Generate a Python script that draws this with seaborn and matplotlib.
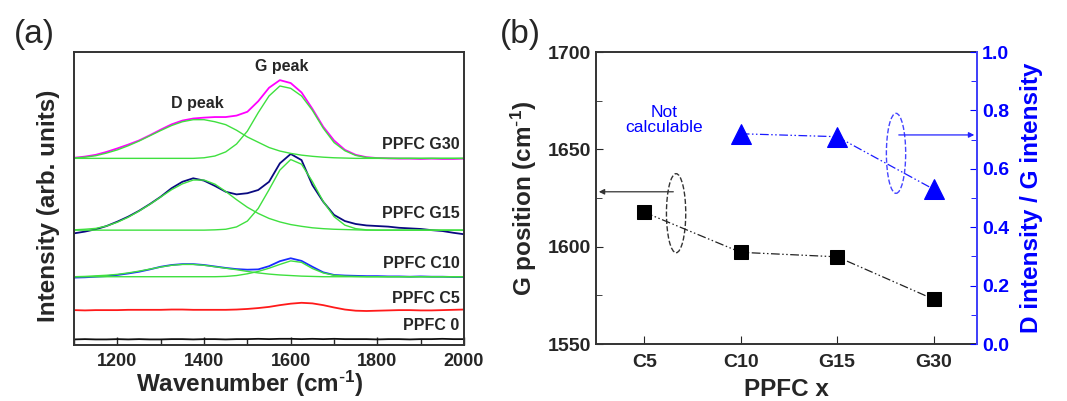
import numpy as np
import pandas as pd
import seaborn as sns
import matplotlib.pyplot as plt
from matplotlib.patches import Ellipse
from matplotlib.ticker import MultipleLocator

# ---- (a) Raman spectra, every 25 cm-1 ----
wavenumber = np.arange(1100, 2001, 25)

ppfc_g30 = [63.9, 64.3, 64.9, 65.9, 67.1, 68.4, 69.8, 71.6, 73.5, 75.3, 76.6, 77.3, 77.6,
            77.8, 77.8, 78.3, 79.6, 83.2, 87.8, 90.4, 89.4, 86.2, 80.6, 74.5, 69.8, 66.6,
            64.9, 64.1, 63.8, 63.7, 63.6, 63.6, 63.5, 63.6, 63.5, 63.5, 63.6]
g30_dfit = [63.8, 64.1, 64.6, 65.5, 66.6, 68.0, 69.6, 71.4, 73.2, 74.9, 76.2, 76.9, 76.9,
            76.2, 75.2, 73.3, 71.0, 69.2, 67.4, 66.2, 65.4, 64.8, 64.4, 64.1, 63.9, 63.8,
            63.7, 63.7, 63.7, 63.7, 63.7, 63.7, 63.7, 63.7, 63.7, 63.7, 63.7]
g30_gfit = [63.7, 63.7, 63.7, 63.7, 63.7, 63.7, 63.7, 63.7, 63.7, 63.7, 63.7, 63.7, 63.9,
            64.5, 65.9, 68.6, 73.0, 79.3, 85.0, 88.4, 87.6, 85.0, 80.1, 74.0, 69.1, 66.3,
            64.7, 64.0, 63.8, 63.7, 63.7, 63.7, 63.7, 63.7, 63.7, 63.7, 63.7]

ppfc_g15 = [38.1, 38.7, 39.5, 40.6, 42.1, 43.8, 45.8, 48.1, 50.6, 53.5, 55.7, 56.9, 56.1,
            54.3, 52.3, 51.4, 51.8, 52.9, 55.7, 62.0, 65.2, 63.1, 54.6, 48.9, 44.4, 42.3,
            41.3, 40.8, 40.6, 40.4, 40.0, 39.8, 39.6, 39.2, 38.9, 38.3, 37.8]
g15_dfit = [39.3, 39.5, 39.8, 40.6, 41.9, 43.6, 45.7, 48.0, 50.5, 53.0, 55.0, 56.3, 56.3,
            54.9, 52.4, 49.6, 47.0, 44.9, 43.2, 42.0, 41.1, 40.5, 40.0, 39.7, 39.5, 39.4,
            39.3, 39.2, 39.2, 39.2, 39.2, 39.2, 39.2, 39.2, 39.2, 39.2, 39.2]
g15_gfit = [39.2, 39.2, 39.2, 39.2, 39.2, 39.2, 39.2, 39.2, 39.2, 39.2, 39.2, 39.2, 39.2,
            39.3, 39.5, 40.3, 42.3, 46.6, 53.0, 59.7, 63.3, 61.7, 55.8, 49.0, 43.8, 40.9,
            39.7, 39.3, 39.2, 39.2, 39.2, 39.2, 39.2, 39.2, 39.2, 39.2, 39.2]

ppfc_c10 = [23.0, 23.1, 23.3, 23.5, 23.9, 24.4, 25.0, 25.8, 26.7, 27.3, 27.6, 27.6, 27.3,
            26.8, 26.3, 25.9, 25.7, 25.8, 26.9, 28.6, 29.6, 28.7, 26.7, 24.8, 23.9, 23.7,
            23.6, 23.5, 23.5, 23.4, 23.4, 23.3, 23.4, 23.3, 23.3, 23.2, 23.2]
c10_dfit = [23.3, 23.4, 23.6, 23.8, 24.1, 24.6, 25.2, 25.9, 26.6, 27.2, 27.5, 27.5, 27.2,
            26.7, 26.2, 25.7, 25.1, 24.6, 24.2, 23.9, 23.7, 23.5, 23.4, 23.3, 23.3, 23.3,
            23.3, 23.3, 23.3, 23.3, 23.3, 23.3, 23.3, 23.3, 23.3, 23.3, 23.3]
c10_gfit = [23.3, 23.3, 23.3, 23.3, 23.3, 23.3, 23.3, 23.3, 23.3, 23.3, 23.3, 23.3, 23.3,
            23.3, 23.4, 23.7, 24.3, 25.1, 26.2, 27.5, 28.7, 28.2, 26.1, 24.6, 23.8, 23.5,
            23.4, 23.3, 23.3, 23.3, 23.3, 23.3, 23.3, 23.3, 23.3, 23.3, 23.3]

ppfc_c5 = [11.9, 11.8, 11.9, 11.9, 11.9, 12.0, 12.0, 12.0, 12.0, 12.1, 12.1, 12.0, 12.0,
           12.0, 12.0, 12.1, 12.3, 12.6, 13.0, 13.6, 14.1, 14.4, 14.2, 13.6, 12.8, 12.1,
           11.7, 11.6, 11.7, 11.8, 11.9, 11.9, 11.8, 11.8, 11.9, 12.0, 12.1]

ppfc_0 = [1.9, 2.0, 1.9, 1.9, 2.0, 1.9, 2.0, 1.9, 1.9, 2.0, 2.0, 1.9, 2.0, 2.0, 1.9, 2.0,
          2.0, 2.1, 2.0, 2.1, 2.1, 2.0, 2.1, 2.0, 2.1, 2.0, 2.0, 2.0, 1.9, 2.0, 2.0, 1.9,
          2.0, 2.0, 2.1, 2.0, 2.0]

# ---- (b) G position and D/G ratio ----
samples = ["C5", "C10", "G15", "G30"]
g_position = [1617.7, 1597.1, 1594.8, 1573.0]
dg_samples = ["C10", "G15", "G30"]
dg_ratio = [0.72, 0.71, 0.53]

sns.set_style("ticks")
plt.rcParams['font.family'] = ['Liberation Sans', 'DejaVu Sans']
plt.rcParams['mathtext.default'] = 'regular'

fig = plt.figure(figsize=(10.67, 4.01), dpi=100)
axa = fig.add_axes([0.0694, 0.1397, 0.3655, 0.7306])
axb = fig.add_axes([0.5586, 0.1421, 0.3571, 0.7282])

green = '#3fe03f'
spectra = [(ppfc_g30, '#ff00ff'), (ppfc_g15, '#0a0a80'), (ppfc_c10, '#1a2cff'),
           (ppfc_c5, '#ff1a1a'), (ppfc_0, '#111111')]
fits = [g30_dfit, g30_gfit, g15_dfit, g15_gfit, c10_dfit, c10_gfit]

for vals, col in spectra:
    sns.lineplot(x=wavenumber, y=vals, ax=axa, color=col, lw=1.3, estimator=None)
for vals in fits:
    sns.lineplot(x=wavenumber, y=vals, ax=axa, color=green, lw=1.0, estimator=None)

axa.set_xlim(1100, 2000)
axa.set_ylim(0, 100)
axa.set_yticks([])
axa.xaxis.set_major_locator(MultipleLocator(200))
axa.xaxis.set_minor_locator(MultipleLocator(100))
axa.tick_params(axis='x', which='both', direction='in', labelsize=13, pad=6)
axa.tick_params(axis='x', which='major', length=6, width=1)
axa.tick_params(axis='x', which='minor', length=4, width=1)
for lab in axa.get_xticklabels():
    lab.set_fontweight('bold')
for sp in axa.spines.values():
    sp.set_color('#333333')
    sp.set_linewidth(1.4)
axa.set_xlabel(r"Wavenumber (cm$^{\text{-}1}$)", fontsize=17.5, fontweight='bold')
axa.set_ylabel("Intensity (arb. units)", fontsize=17.5, fontweight='bold')
axa.xaxis.set_label_coords(0.451, -0.08)
axa.yaxis.set_label_coords(-0.035, 0.474)

label_y = {"PPFC G30": 68.6, "PPFC G15": 44.9, "PPFC C10": 27.9, "PPFC C5": 15.7, "PPFC 0": 6.5}
for txt, yy in label_y.items():
    axa.text(1990, yy, txt, ha='right', va='center', fontsize=11.5, fontweight='bold')
axa.text(1579, 95.0, "G peak", ha='center', va='center', fontsize=11.5, fontweight='bold')
axa.text(1385, 82.3, "D peak", ha='center', va='center', fontsize=11.5, fontweight='bold')

# ---- panel (b) ----
xpos = {s: i for i, s in enumerate(samples)}
dfg = pd.DataFrame({"x": [xpos[s] for s in samples], "g": g_position})
dfd = pd.DataFrame({"x": [xpos[s] for s in dg_samples], "r": dg_ratio})

sns.lineplot(data=dfg, x="x", y="g", ax=axb, color='#222222', lw=0.9,
             linestyle=(0, (7, 2, 1.2, 2, 1.2, 2)), marker='s', markersize=10,
             markeredgecolor='black', markerfacecolor='black')
axb.set_xlim(-0.5, 3.45)
axb.set_ylim(1550, 1700)
axb.set_xticks(range(len(samples)))
axb.set_xticklabels(samples)
axb.yaxis.set_major_locator(MultipleLocator(50))
axb.yaxis.set_minor_locator(MultipleLocator(25))
axb.tick_params(axis='both', which='both', direction='in', labelsize=14)
axb.tick_params(axis='x', length=6, pad=7)
axb.tick_params(axis='y', which='major', length=5)
axb.tick_params(axis='y', which='minor', length=4)
for lab in axb.get_xticklabels() + axb.get_yticklabels():
    lab.set_fontweight('bold')
axb.set_xlabel("PPFC x", fontsize=17.5, fontweight='bold', labelpad=5)
axb.set_ylabel(r"G position (cm$^{\text{-}1}$)", fontsize=17.5, fontweight='bold', labelpad=6)
for sp in axb.spines.values():
    sp.set_color('#333333')
    sp.set_linewidth(1.4)

axr = axb.twinx()
sns.lineplot(data=dfd, x="x", y="r", ax=axr, color='#1a1aff', lw=0.9,
             linestyle=(0, (7, 2, 1.2, 2, 1.2, 2)), marker='^', markersize=14,
             markeredgecolor='blue', markerfacecolor='blue')
axr.set_ylim(0, 1.0)
axr.yaxis.set_major_locator(MultipleLocator(0.2))
axr.yaxis.set_minor_locator(MultipleLocator(0.1))
axr.tick_params(axis='y', which='both', direction='in', labelsize=14, colors='blue')
axr.tick_params(axis='y', which='major', length=5)
axr.tick_params(axis='y', which='minor', length=4)
for lab in axr.get_yticklabels():
    lab.set_fontweight('bold')
axr.set_ylabel("D intensity / G intensity", fontsize=17.5, fontweight='bold',
               color='blue', labelpad=8)
axr.spines['right'].set_color('#4444ff')
axr.spines['right'].set_linewidth(1.4)
for s in ['left', 'top', 'bottom']:
    axr.spines[s].set_visible(False)

# ellipses and arrows
axb.add_patch(Ellipse((0.33, 1617.2), 0.2, 40.6, fill=False, ls='--', lw=1.0, ec='#333333'))
axb.annotate("", xy=(-0.5, 1628.2), xytext=(0.33, 1628.2),
             arrowprops=dict(arrowstyle='-|>', color='#333333', lw=0.9, mutation_scale=8))
axr.add_patch(Ellipse((2.61, 0.653), 0.2, 0.274, fill=False, ls='--', lw=1.0, ec='#4444ff'))
axr.annotate("", xy=(3.45, 0.716), xytext=(2.61, 0.716),
             arrowprops=dict(arrowstyle='-|>', color='#2222ff', lw=0.9, mutation_scale=8))
axb.text(0.21, 1665, "Not\ncalculable", color='blue', fontsize=12.5, ha='center',
         va='center', linespacing=0.95)

fig.text(0.032, 0.915, "(a)", fontsize=24, ha='center', va='center')
fig.text(0.488, 0.915, "(b)", fontsize=24, ha='center', va='center')

fig.savefig("out.png", dpi=100)
